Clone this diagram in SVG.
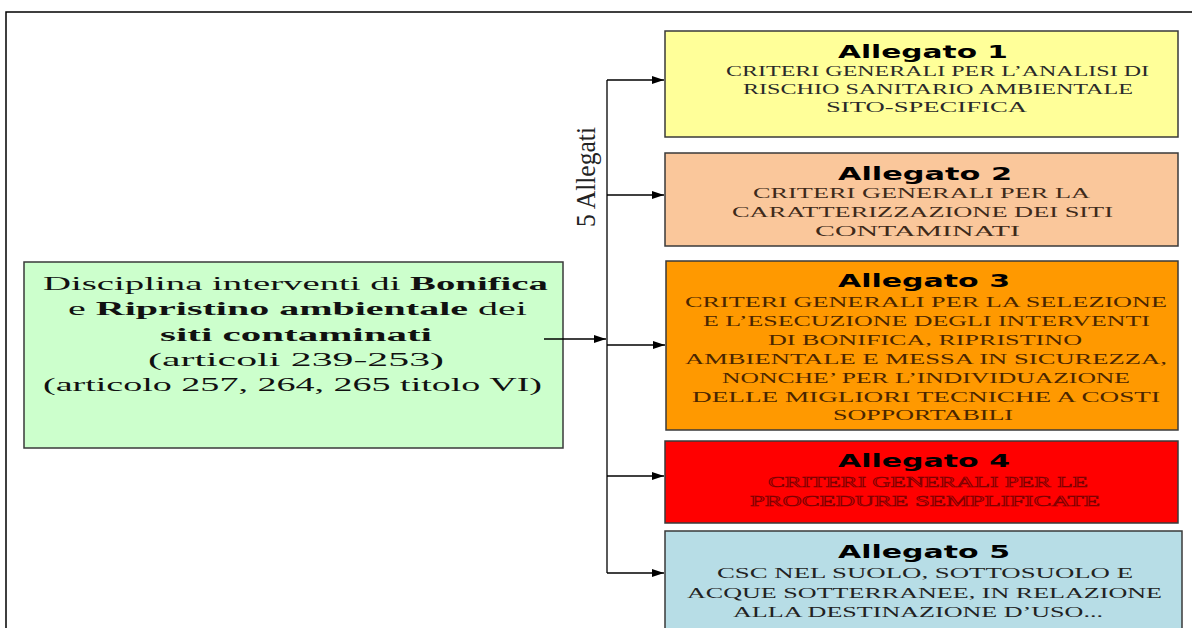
<svg xmlns="http://www.w3.org/2000/svg" width="1192" height="628" viewBox="0 0 1192 628">
<style>
.box{stroke:#3a3a3a;stroke-width:1.5}
.ttl{font-family:"DejaVu Sans","Verdana",sans-serif;font-weight:bold;font-size:18px;fill:#000}
.t{font-family:"Liberation Serif","Times New Roman",serif;font-size:14px}
.g{font-family:"Liberation Serif","Times New Roman",serif;font-size:18px;fill:#111}
.conn line{stroke:#000;stroke-width:1.3}
</style>
<defs>
<marker id="ah" markerWidth="12" markerHeight="8" refX="12" refY="4" orient="auto" markerUnits="userSpaceOnUse">
<path d="M0,0 L12,4 L0,8 Z" fill="#000"/>
</marker>
</defs>
<rect x="0" y="0" width="1192" height="628" fill="#fff"/>
<rect x="6" y="12" width="1200" height="630" fill="none" stroke="#000" stroke-width="1.5"/>

<g id="source">
<rect class="box" x="24" y="262" width="539" height="186" fill="#ccffcc"/>
<text class="g" x="43" y="290" textLength="505" lengthAdjust="spacingAndGlyphs">Disciplina interventi di <tspan font-weight="bold">Bonifica</tspan></text>
<text class="g" x="68" y="315" textLength="459" lengthAdjust="spacingAndGlyphs">e <tspan font-weight="bold">Ripristino ambientale</tspan> dei</text>
<text class="g" x="160" y="341" textLength="272" lengthAdjust="spacingAndGlyphs" font-weight="bold">siti contaminati</text>
<text class="g" x="148" y="366" textLength="296" lengthAdjust="spacingAndGlyphs">(articoli 239-253)</text>
<text class="g" x="43" y="391" textLength="499" lengthAdjust="spacingAndGlyphs">(articolo 257, 264, 265 titolo VI)</text>
</g>

<g id="allegato1">
<rect class="box" x="665" y="31" width="513" height="106" fill="#ffff99"/>
<text class="ttl" x="838" y="58" textLength="170" lengthAdjust="spacingAndGlyphs">Allegato  1</text>
<g class="t" fill="#2a2a2a">
<text x="726" y="76" textLength="423" lengthAdjust="spacingAndGlyphs">CRITERI GENERALI PER L’ANALISI DI</text>
<text x="743" y="94" textLength="390" lengthAdjust="spacingAndGlyphs">RISCHIO SANITARIO AMBIENTALE</text>
<text x="826" y="112" textLength="201" lengthAdjust="spacingAndGlyphs">SITO-SPECIFICA</text>
</g>
</g>

<g id="allegato2">
<rect class="box" x="665" y="153" width="513" height="93" fill="#fac79b"/>
<text class="ttl" x="838" y="180" textLength="174" lengthAdjust="spacingAndGlyphs">Allegato  2</text>
<g class="t" fill="#3e2a1a">
<text x="753" y="198" textLength="337" lengthAdjust="spacingAndGlyphs">CRITERI GENERALI PER LA</text>
<text x="732" y="217" textLength="381" lengthAdjust="spacingAndGlyphs">CARATTERIZZAZIONE DEI SITI</text>
<text x="815" y="236" textLength="205" lengthAdjust="spacingAndGlyphs">CONTAMINATI</text>
</g>
</g>

<g id="allegato3">
<rect class="box" x="666" y="261" width="512" height="169" fill="#ff9900"/>
<text class="ttl" x="838" y="287" textLength="172" lengthAdjust="spacingAndGlyphs">Allegato  3</text>
<g class="t" fill="#4a2600">
<text x="685" y="307" textLength="482" lengthAdjust="spacingAndGlyphs">CRITERI GENERALI PER LA SELEZIONE</text>
<text x="703" y="326" textLength="447" lengthAdjust="spacingAndGlyphs">E L’ESECUZIONE DEGLI INTERVENTI</text>
<text x="768" y="345" textLength="314" lengthAdjust="spacingAndGlyphs">DI BONIFICA, RIPRISTINO</text>
<text x="685" y="364" textLength="482" lengthAdjust="spacingAndGlyphs">AMBIENTALE E MESSA IN SICUREZZA,</text>
<text x="722" y="383" textLength="408" lengthAdjust="spacingAndGlyphs">NONCHE’ PER L’INDIVIDUAZIONE</text>
<text x="692" y="402" textLength="468" lengthAdjust="spacingAndGlyphs">DELLE MIGLIORI TECNICHE A COSTI</text>
<text x="833" y="420" textLength="180" lengthAdjust="spacingAndGlyphs">SOPPORTABILI</text>
</g>
</g>

<g id="allegato4">
<rect class="box" x="665" y="441" width="513" height="82" fill="#ff0000"/>
<text class="ttl" x="838" y="467" textLength="172" lengthAdjust="spacingAndGlyphs">Allegato  4</text>
<g class="t" fill="#e00000" stroke="#7a0000" stroke-width="0.6">
<text x="768" y="487" textLength="320" lengthAdjust="spacingAndGlyphs">CRITERI GENERALI PER LE</text>
<text x="750" y="506" textLength="350" lengthAdjust="spacingAndGlyphs">PROCEDURE SEMPLIFICATE</text>
</g>
</g>

<g id="allegato5">
<rect class="box" x="665" y="531" width="517" height="110" fill="#b7dde6"/>
<text class="ttl" x="838" y="558" textLength="172" lengthAdjust="spacingAndGlyphs">Allegato  5</text>
<g class="t" fill="#222">
<text x="717" y="578" textLength="416" lengthAdjust="spacingAndGlyphs">CSC NEL SUOLO, SOTTOSUOLO E</text>
<text x="687" y="598" textLength="475" lengthAdjust="spacingAndGlyphs">ACQUE SOTTERRANEE, IN RELAZIONE</text>
<text x="733" y="617" textLength="370" lengthAdjust="spacingAndGlyphs">ALLA DESTINAZIONE D’USO...</text>
</g>
</g>

<g id="connectors" class="conn">
<line x1="544" y1="339" x2="606" y2="339" marker-end="url(#ah)"/>
<line x1="607" y1="80" x2="607" y2="573"/>
<line x1="607" y1="80" x2="664" y2="80" marker-end="url(#ah)"/>
<line x1="607" y1="195" x2="664" y2="195" marker-end="url(#ah)"/>
<line x1="607" y1="345" x2="665" y2="345" marker-end="url(#ah)"/>
<line x1="607" y1="476" x2="664" y2="476" marker-end="url(#ah)"/>
<line x1="607" y1="573" x2="664" y2="573" marker-end="url(#ah)"/>
<text transform="translate(595,227) rotate(-90)" x="0" y="0" font-family="Liberation Serif, Times New Roman, serif" font-size="27" fill="#222" textLength="100" lengthAdjust="spacingAndGlyphs">5 Allegati</text>
</g>
</svg>
